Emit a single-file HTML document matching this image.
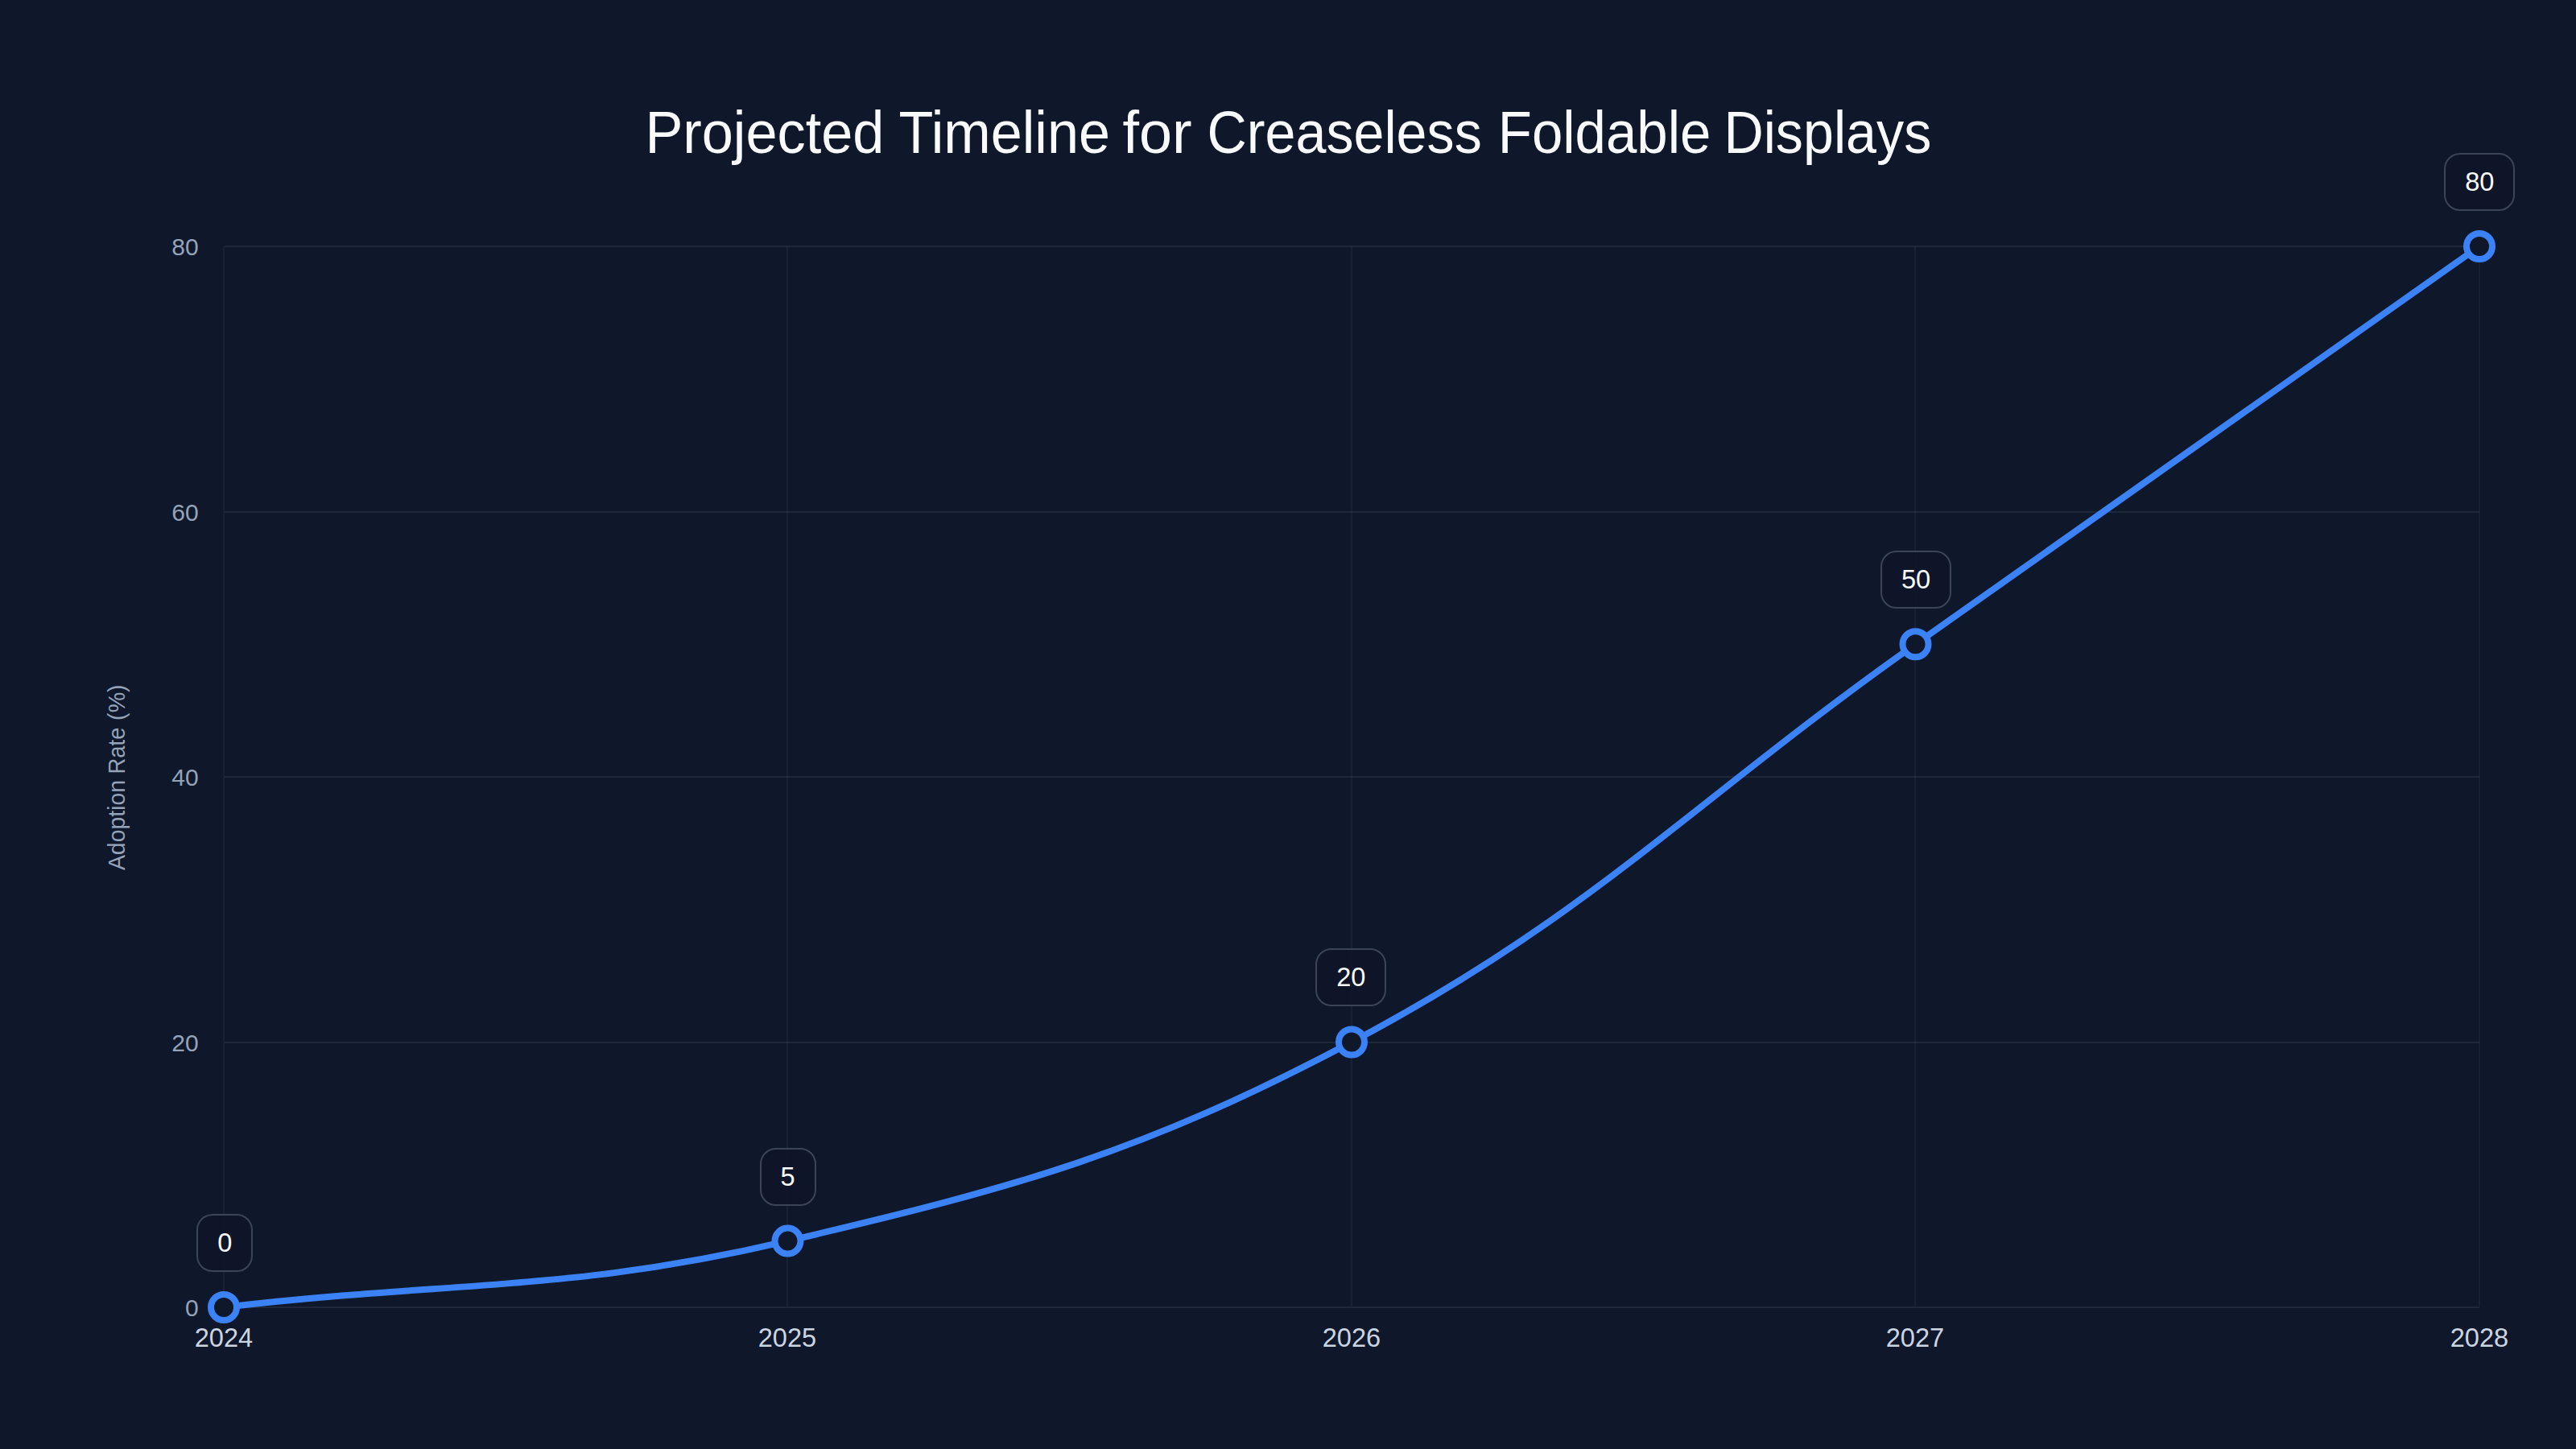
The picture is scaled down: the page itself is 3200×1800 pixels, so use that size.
<!DOCTYPE html>
<html lang="en"><head><meta charset="utf-8"><title>Projected Timeline for Creaseless Foldable Displays</title>
<style>
html,body{margin:0;padding:0;background:#0f172a;}
body{width:3200px;height:1800px;overflow:hidden;position:relative;}
svg{position:absolute;left:0;top:0;display:block;}
text{font-family:"Liberation Sans", Arial, Helvetica, sans-serif;}
.title{font-size:74px;fill:#f8fafc;}
.ytick{font-size:30px;fill:#94a3b8;}
.xtick{font-size:32.6px;fill:#cbd5e1;}
.ytitle{font-size:29.4px;fill:#94a3b8;}
.val{font-size:32.6px;fill:#f8fafc;}
</style></head><body>
<svg width="3200" height="1800" viewBox="0 0 3200 1800">
<rect width="3200" height="1800" fill="#0f172a"/>
<text class="title" y="189.7"><tspan x="801.48" textLength="296.96" lengthAdjust="spacingAndGlyphs">Projected</tspan> <tspan x="1116.38" textLength="262.62" lengthAdjust="spacingAndGlyphs">Timeline</tspan> <tspan x="1394.40" textLength="86.15" lengthAdjust="spacingAndGlyphs">for</tspan> <tspan x="1499.46" textLength="341.38" lengthAdjust="spacingAndGlyphs">Creaseless</tspan> <tspan x="1860.78" textLength="264.67" lengthAdjust="spacingAndGlyphs">Foldable</tspan> <tspan x="2141.44" textLength="257.81" lengthAdjust="spacingAndGlyphs">Displays</tspan></text>
<g shape-rendering="crispEdges">
<rect x="279" y="305" width="2801" height="2" fill="rgba(148,163,184,0.12)"/>
<rect x="279" y="635" width="2801" height="2" fill="rgba(148,163,184,0.12)"/>
<rect x="279" y="964" width="2801" height="2" fill="rgba(148,163,184,0.12)"/>
<rect x="279" y="1294" width="2801" height="2" fill="rgba(148,163,184,0.12)"/>
<rect x="279" y="1623" width="2801" height="2" fill="rgba(148,163,184,0.12)"/>
<rect x="277" y="306" width="2" height="1317" fill="rgba(148,163,184,0.08)"/>
<rect x="977" y="306" width="2" height="1317" fill="rgba(148,163,184,0.08)"/>
<rect x="1678" y="306" width="2" height="1317" fill="rgba(148,163,184,0.08)"/>
<rect x="2378" y="306" width="2" height="1317" fill="rgba(148,163,184,0.08)"/>
<rect x="3079" y="306" width="2" height="1317" fill="rgba(148,163,184,0.08)"/>
</g>
<text class="ytick" x="246.7" y="316.7" text-anchor="end">80</text>
<text class="ytick" x="246.7" y="646.7" text-anchor="end">60</text>
<text class="ytick" x="246.7" y="975.7" text-anchor="end">40</text>
<text class="ytick" x="246.7" y="1305.7" text-anchor="end">20</text>
<text class="ytick" x="246.7" y="1634.7" text-anchor="end">0</text>
<text class="xtick" x="278" y="1673" text-anchor="middle">2024</text>
<text class="xtick" x="978" y="1673" text-anchor="middle">2025</text>
<text class="xtick" x="1679" y="1673" text-anchor="middle">2026</text>
<text class="xtick" x="2379" y="1673" text-anchor="middle">2027</text>
<text class="xtick" x="3080" y="1673" text-anchor="middle">2028</text>
<text class="ytitle" transform="translate(155.4,966) rotate(-90)"><tspan x="-115.08" textLength="112.07" lengthAdjust="spacingAndGlyphs">Adoption</tspan> <tspan x="4.55" textLength="57.81" lengthAdjust="spacingAndGlyphs">Rate</tspan> <tspan x="71.12" textLength="44.54" lengthAdjust="spacingAndGlyphs">(%)</tspan></text>
<path d="M278.00,1624.00 C558.20,1591.05 705.55,1605.82 978.50,1541.62 C1265.95,1474.02 1418.85,1432.17 1679.00,1294.50 C1979.25,1135.62 2099.30,997.95 2379.50,800.25 C2659.70,602.55 2799.80,503.70 3080.00,306.00" fill="none" stroke="#3b82f6" stroke-width="8" stroke-linecap="round" stroke-linejoin="round"/>
<rect x="245" y="1509" width="68" height="70" rx="19" ry="19" fill="rgba(15,21,41,0.9)" stroke="#3b4459" stroke-width="2"/>
<text class="val" x="279.4" y="1555.1" text-anchor="middle">0</text>
<rect x="945" y="1427" width="68" height="70" rx="19" ry="19" fill="rgba(15,21,41,0.9)" stroke="#3b4459" stroke-width="2"/>
<text class="val" x="978.6" y="1473.1" text-anchor="middle">5</text>
<rect x="1635" y="1179" width="86" height="70" rx="19" ry="19" fill="rgba(15,21,41,0.9)" stroke="#3b4459" stroke-width="2"/>
<text class="val" x="1678.35" y="1225.1" text-anchor="middle">20</text>
<rect x="2337" y="685" width="86" height="70" rx="19" ry="19" fill="rgba(15,21,41,0.9)" stroke="#3b4459" stroke-width="2"/>
<text class="val" x="2380.05" y="731.1" text-anchor="middle">50</text>
<rect x="3037" y="191" width="86" height="70" rx="19" ry="19" fill="rgba(15,21,41,0.9)" stroke="#3b4459" stroke-width="2"/>
<text class="val" x="3080.3" y="237.1" text-anchor="middle">80</text>
<circle cx="278.00" cy="1624.00" r="16" fill="#0f172a" stroke="#3b82f6" stroke-width="8"/>
<circle cx="978.50" cy="1541.62" r="16" fill="#0f172a" stroke="#3b82f6" stroke-width="8"/>
<circle cx="1679.00" cy="1294.50" r="16" fill="#0f172a" stroke="#3b82f6" stroke-width="8"/>
<circle cx="2379.50" cy="800.25" r="16" fill="#0f172a" stroke="#3b82f6" stroke-width="8"/>
<circle cx="3080.00" cy="306.00" r="16" fill="#0f172a" stroke="#3b82f6" stroke-width="8"/>
</svg>
</body></html>
